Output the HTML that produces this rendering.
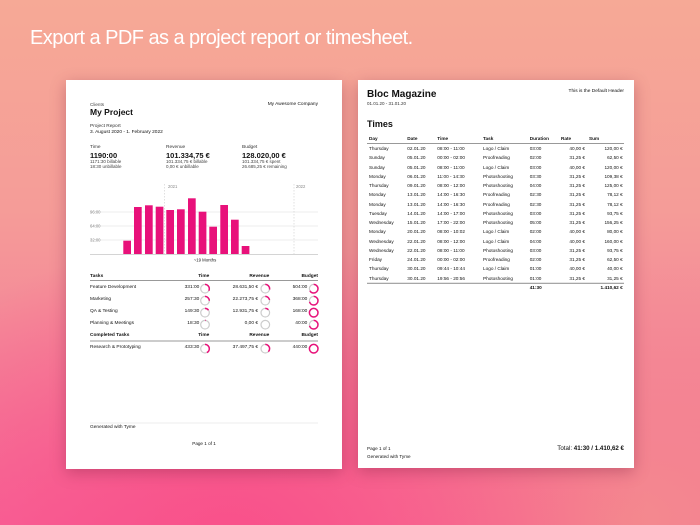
<!DOCTYPE html>
<html><head><meta charset="utf-8">
<style>
*{margin:0;padding:0;box-sizing:border-box}
html,body{width:700px;height:525px;overflow:hidden}
body{position:relative;font-family:"Liberation Sans",sans-serif;color:#111;
background:
radial-gradient(ellipse 420px 300px at 230px 540px,#f9508a 0%,rgba(249,80,138,0.6) 45%,rgba(249,80,138,0) 100%),
radial-gradient(ellipse 500px 260px at 620px 520px,#f48a8e 0%,rgba(244,138,142,0) 100%),
linear-gradient(180deg,#f6a996 0%,#f59c98 40%,#f47f98 75%,#f6689a 100%);}
.h{position:absolute;left:30px;top:27px;color:#fff;font-size:20px;letter-spacing:-0.55px;white-space:nowrap}
.pg{position:absolute;background:#fff;box-shadow:0 4px 14px rgba(120,30,60,0.35)}
.t{position:absolute;line-height:1;white-space:nowrap}
.r{text-align:right}
.b{font-weight:bold}
.lay{position:absolute;left:0;top:0;width:700px;height:525px}
</style></head><body>
<div class="h">Export a PDF as a project report or timesheet.</div>

<div class="pg" style="left:66px;top:80px;width:276px;height:389px"></div>
<div class="pg" style="left:358px;top:80px;width:276px;height:388px"></div>

<!-- LEFT PAGE -->
<div class="t" style="left:90px;top:102.5px;font-size:4.6px;color:#444">Clients</div>
<div class="t b" style="left:90px;top:108px;font-size:8.5px">My Project</div>
<div class="t" style="right:382px;top:102.5px;font-size:4.8px">My Awesome Company</div>
<div class="t" style="left:90px;top:125px;font-size:4.8px;color:#333">Project Report</div>
<div class="t" style="left:90px;top:131px;font-size:4.8px">3. August 2020 - 1. February 2022</div>

<div class="t" style="left:90px;top:146px;font-size:4.8px;color:#333">Time</div>
<div class="t b" style="left:90px;top:151.5px;font-size:7.5px">1190:00</div>
<div class="t" style="left:90px;top:159.5px;font-size:4.5px;color:#444">1171:30 billable</div>
<div class="t" style="left:90px;top:165px;font-size:4.5px;color:#444">18:30 unbillable</div>
<div class="t" style="left:166px;top:146px;font-size:4.8px;color:#333">Revenue</div>
<div class="t b" style="left:166px;top:151.5px;font-size:7.5px">101.334,75 €</div>
<div class="t" style="left:166px;top:159.5px;font-size:4.5px;color:#444">101.334,75 € billable</div>
<div class="t" style="left:166px;top:165px;font-size:4.5px;color:#444">0,00 € unbillable</div>
<div class="t" style="left:242px;top:146px;font-size:4.8px;color:#333">Budget</div>
<div class="t b" style="left:242px;top:151.5px;font-size:7.5px">128.020,00 €</div>
<div class="t" style="left:242px;top:159.5px;font-size:4.5px;color:#444">101.334,75 € spent</div>
<div class="t" style="left:242px;top:165px;font-size:4.5px;color:#444">26.685,25 € remaining</div>

<svg style="position:absolute;left:0;top:0" width="700" height="525">
<g stroke="#e8e8e8" stroke-width="0.8">
<line x1="90" y1="212" x2="318" y2="212"/><line x1="90" y1="226" x2="318" y2="226"/><line x1="90" y1="240" x2="318" y2="240"/>
</g>
<g stroke="#ccc" stroke-width="0.6" stroke-dasharray="1.5,1.5">
<line x1="164.7" y1="184" x2="164.7" y2="254"/><line x1="294" y1="184" x2="294" y2="254"/>
</g>
<g fill="#e8117a">
<rect x="123.3" y="240.7" width="7.7" height="13.3"/>
<rect x="134" y="207" width="7.7" height="47"/>
<rect x="145" y="205.3" width="7.7" height="48.7"/>
<rect x="155.7" y="206.7" width="7.7" height="47.3"/>
<rect x="166.3" y="210" width="7.7" height="44"/>
<rect x="177" y="209.3" width="7.7" height="44.7"/>
<rect x="188" y="198.3" width="7.7" height="55.7"/>
<rect x="198.7" y="211.7" width="7.7" height="42.3"/>
<rect x="209.3" y="226.7" width="7.7" height="27.3"/>
<rect x="220.3" y="205" width="7.7" height="49"/>
<rect x="231" y="219.7" width="7.7" height="34.3"/>
<rect x="241.7" y="246" width="7.7" height="8"/>
</g>
<line x1="90" y1="254.3" x2="318" y2="254.3" stroke="#bbb" stroke-width="0.6"/>
<g font-family="Liberation Sans" font-size="4.2" fill="#888">
<text x="90" y="213.5">96:00</text><text x="90" y="227.5">64:00</text><text x="90" y="241.5">32:00</text>
<text x="168" y="188">2021</text><text x="296" y="188">2022</text>
</g>
<text x="205" y="261.5" font-family="Liberation Sans" font-size="4.3" fill="#222" text-anchor="middle">~19 Months</text>
<g stroke="#999" stroke-width="1.1">
<line x1="90" y1="280.5" x2="318" y2="280.5"/><line x1="90" y1="341" x2="318" y2="341"/>
</g>
<line x1="90" y1="423" x2="318" y2="423" stroke="#ddd" stroke-width="0.6"/>
<g fill="none" stroke-width="1.2">
<g stroke="#ccc">
<circle cx="205" cy="288.7" r="4.3"/><circle cx="205" cy="300.7" r="4.3"/><circle cx="205" cy="312.7" r="4.3"/><circle cx="205" cy="324.7" r="4.3"/><circle cx="205" cy="348.7" r="4.3"/>
<circle cx="265.3" cy="288.7" r="4.3"/><circle cx="265.3" cy="300.7" r="4.3"/><circle cx="265.3" cy="312.7" r="4.3"/><circle cx="265.3" cy="324.7" r="4.3"/><circle cx="265.3" cy="348.7" r="4.3"/>
<circle cx="313.7" cy="288.7" r="4.3"/><circle cx="313.7" cy="300.7" r="4.3"/><circle cx="313.7" cy="312.7" r="4.3"/><circle cx="313.7" cy="324.7" r="4.3"/><circle cx="313.7" cy="348.7" r="4.3"/>
</g>
<g stroke="#e8117a" stroke-width="1.5">
<circle cx="205" cy="288.7" r="4.3" stroke-dasharray="8.8 27" transform="rotate(-90 205 288.7)"/>
<circle cx="205" cy="300.7" r="4.3" stroke-dasharray="6.8 27" transform="rotate(-90 205 300.7)"/>
<circle cx="205" cy="312.7" r="4.3" stroke-dasharray="4 27" transform="rotate(-90 205 312.7)"/>
<circle cx="205" cy="324.7" r="4.3" stroke-dasharray="0.6 27" transform="rotate(-90 205 324.7)"/>
<circle cx="205" cy="348.7" r="4.3" stroke-dasharray="11.5 27" transform="rotate(-90 205 348.7)"/>
<circle cx="265.3" cy="288.7" r="4.3" stroke-dasharray="7.6 27" transform="rotate(-90 265.3 288.7)"/>
<circle cx="265.3" cy="300.7" r="4.3" stroke-dasharray="6 27" transform="rotate(-90 265.3 300.7)"/>
<circle cx="265.3" cy="312.7" r="4.3" stroke-dasharray="3.4 27" transform="rotate(-90 265.3 312.7)"/>
<circle cx="265.3" cy="348.7" r="4.3" stroke-dasharray="10 27" transform="rotate(-90 265.3 348.7)"/>
<circle cx="313.7" cy="288.7" r="4.3" stroke-dasharray="18 27" transform="rotate(-90 313.7 288.7)"/>
<circle cx="313.7" cy="300.7" r="4.3" stroke-dasharray="19 27" transform="rotate(-90 313.7 300.7)"/>
<circle cx="313.7" cy="312.7" r="4.3"/>
<circle cx="313.7" cy="324.7" r="4.3" stroke-dasharray="19 27" transform="rotate(-90 313.7 324.7)"/>
<circle cx="313.7" cy="348.7" r="4.3"/>
</g>
</g>
<g stroke="#999" stroke-width="1.1">
<line x1="367" y1="143.5" x2="624" y2="143.5"/><line x1="367" y1="283.3" x2="624" y2="283.3"/>
</g>
</svg>

<div class="t b" style="left:90px;top:274.5px;font-size:4.8px">Tasks</div>
<div class="t b r" style="right:490.7px;top:274.5px;font-size:4.8px">Time</div>
<div class="t b r" style="right:430.7px;top:274.5px;font-size:4.8px">Revenue</div>
<div class="t b r" style="right:382px;top:274.5px;font-size:4.8px">Budget</div>

<div class="t" style="left:90px;top:286.3px;font-size:4.8px">Feature Development</div>
<div class="t" style="right:500.7px;top:286.3px;font-size:4.8px">331:00</div>
<div class="t" style="right:442px;top:286.3px;font-size:4.8px">28.631,50 €</div>
<div class="t" style="right:392.7px;top:286.3px;font-size:4.8px">504:00</div>

<div class="t" style="left:90px;top:298.3px;font-size:4.8px">Marketing</div>
<div class="t" style="right:500.7px;top:298.3px;font-size:4.8px">257:30</div>
<div class="t" style="right:442px;top:298.3px;font-size:4.8px">22.273,75 €</div>
<div class="t" style="right:392.7px;top:298.3px;font-size:4.8px">368:00</div>

<div class="t" style="left:90px;top:310.3px;font-size:4.8px">QA &amp; Testing</div>
<div class="t" style="right:500.7px;top:310.3px;font-size:4.8px">149:30</div>
<div class="t" style="right:442px;top:310.3px;font-size:4.8px">12.931,75 €</div>
<div class="t" style="right:392.7px;top:310.3px;font-size:4.8px">168:00</div>

<div class="t" style="left:90px;top:322.3px;font-size:4.8px">Planning &amp; Meetings</div>
<div class="t" style="right:500.7px;top:322.3px;font-size:4.8px">18:30</div>
<div class="t" style="right:442px;top:322.3px;font-size:4.8px">0,00 €</div>
<div class="t" style="right:392.7px;top:322.3px;font-size:4.8px">40:00</div>

<div class="t b" style="left:90px;top:334.3px;font-size:4.8px">Completed Tasks</div>
<div class="t b" style="right:490.7px;top:334.3px;font-size:4.8px">Time</div>
<div class="t b" style="right:430.7px;top:334.3px;font-size:4.8px">Revenue</div>
<div class="t b" style="right:382px;top:334.3px;font-size:4.8px">Budget</div>

<div class="t" style="left:90px;top:346.3px;font-size:4.8px">Research &amp; Prototyping</div>
<div class="t" style="right:500.7px;top:346.3px;font-size:4.8px">433:30</div>
<div class="t" style="right:442px;top:346.3px;font-size:4.8px">37.497,75 €</div>
<div class="t" style="right:392.7px;top:346.3px;font-size:4.8px">440:00</div>

<div class="t" style="left:90px;top:426.3px;font-size:4.8px">Generated with Tyme</div>
<div class="t" style="left:204px;top:441.7px;font-size:4.6px;transform:translateX(-50%)">Page 1 of 1</div>

<!-- RIGHT PAGE -->
<div class="t b" style="left:367px;top:89.5px;font-size:10px">Bloc Magazine</div>
<div class="t" style="left:367px;top:102px;font-size:4.5px;color:#333">01.01.20 - 31.01.20</div>
<div class="t" style="right:76px;top:89.8px;font-size:4.8px">This is the Default Header</div>
<div class="t b" style="left:367px;top:120px;font-size:9px">Times</div>

<div class="lay" style="font-size:4.7px">
<div class="t b" style="left:369px;top:137px">Day</div>
<div class="t b" style="left:407.3px;top:137px">Date</div>
<div class="t b" style="left:437.3px;top:137px">Time</div>
<div class="t b" style="left:483px;top:137px">Task</div>
<div class="t b" style="left:529.7px;top:137px">Duration</div>
<div class="t b" style="left:561px;top:137px">Rate</div>
<div class="t b" style="left:589px;top:137px">Sum</div>
</div>

<div class="lay" style="font-size:4.7px">
<div class="t" style="left:369px;top:147px">Thursday</div><div class="t" style="left:407.3px;top:147px">02.01.20</div><div class="t" style="left:437.3px;top:147px">08:00 - 11:00</div><div class="t" style="left:483px;top:147px">Logo / Claim</div><div class="t" style="left:529.7px;top:147px">03:00</div><div class="t" style="right:115px;top:147px">40,00 €</div><div class="t" style="right:77.3px;top:147px">120,00 €</div>
<div class="t" style="left:369px;top:156.26px">Sunday</div><div class="t" style="left:407.3px;top:156.26px">05.01.20</div><div class="t" style="left:437.3px;top:156.26px">00:00 - 02:00</div><div class="t" style="left:483px;top:156.26px">Proofreading</div><div class="t" style="left:529.7px;top:156.26px">02:00</div><div class="t" style="right:115px;top:156.26px">31,25 €</div><div class="t" style="right:77.3px;top:156.26px">62,50 €</div>
<div class="t" style="left:369px;top:165.52px">Sunday</div><div class="t" style="left:407.3px;top:165.52px">05.01.20</div><div class="t" style="left:437.3px;top:165.52px">08:00 - 11:00</div><div class="t" style="left:483px;top:165.52px">Logo / Claim</div><div class="t" style="left:529.7px;top:165.52px">03:00</div><div class="t" style="right:115px;top:165.52px">40,00 €</div><div class="t" style="right:77.3px;top:165.52px">120,00 €</div>
<div class="t" style="left:369px;top:174.78px">Monday</div><div class="t" style="left:407.3px;top:174.78px">06.01.20</div><div class="t" style="left:437.3px;top:174.78px">11:00 - 14:30</div><div class="t" style="left:483px;top:174.78px">Photoshooting</div><div class="t" style="left:529.7px;top:174.78px">03:30</div><div class="t" style="right:115px;top:174.78px">31,25 €</div><div class="t" style="right:77.3px;top:174.78px">109,38 €</div>
<div class="t" style="left:369px;top:184.04px">Thursday</div><div class="t" style="left:407.3px;top:184.04px">09.01.20</div><div class="t" style="left:437.3px;top:184.04px">08:00 - 12:00</div><div class="t" style="left:483px;top:184.04px">Photoshooting</div><div class="t" style="left:529.7px;top:184.04px">04:00</div><div class="t" style="right:115px;top:184.04px">31,25 €</div><div class="t" style="right:77.3px;top:184.04px">125,00 €</div>
<div class="t" style="left:369px;top:193.3px">Monday</div><div class="t" style="left:407.3px;top:193.3px">13.01.20</div><div class="t" style="left:437.3px;top:193.3px">14:00 - 16:30</div><div class="t" style="left:483px;top:193.3px">Proofreading</div><div class="t" style="left:529.7px;top:193.3px">02:30</div><div class="t" style="right:115px;top:193.3px">31,25 €</div><div class="t" style="right:77.3px;top:193.3px">78,12 €</div>
<div class="t" style="left:369px;top:202.56px">Monday</div><div class="t" style="left:407.3px;top:202.56px">13.01.20</div><div class="t" style="left:437.3px;top:202.56px">14:00 - 16:30</div><div class="t" style="left:483px;top:202.56px">Proofreading</div><div class="t" style="left:529.7px;top:202.56px">02:30</div><div class="t" style="right:115px;top:202.56px">31,25 €</div><div class="t" style="right:77.3px;top:202.56px">78,12 €</div>
<div class="t" style="left:369px;top:211.82px">Tuesday</div><div class="t" style="left:407.3px;top:211.82px">14.01.20</div><div class="t" style="left:437.3px;top:211.82px">14:00 - 17:00</div><div class="t" style="left:483px;top:211.82px">Photoshooting</div><div class="t" style="left:529.7px;top:211.82px">03:00</div><div class="t" style="right:115px;top:211.82px">31,25 €</div><div class="t" style="right:77.3px;top:211.82px">93,75 €</div>
<div class="t" style="left:369px;top:221.08px">Wednesday</div><div class="t" style="left:407.3px;top:221.08px">15.01.20</div><div class="t" style="left:437.3px;top:221.08px">17:00 - 22:00</div><div class="t" style="left:483px;top:221.08px">Photoshooting</div><div class="t" style="left:529.7px;top:221.08px">05:00</div><div class="t" style="right:115px;top:221.08px">31,25 €</div><div class="t" style="right:77.3px;top:221.08px">156,25 €</div>
<div class="t" style="left:369px;top:230.34px">Monday</div><div class="t" style="left:407.3px;top:230.34px">20.01.20</div><div class="t" style="left:437.3px;top:230.34px">08:00 - 10:02</div><div class="t" style="left:483px;top:230.34px">Logo / Claim</div><div class="t" style="left:529.7px;top:230.34px">02:00</div><div class="t" style="right:115px;top:230.34px">40,00 €</div><div class="t" style="right:77.3px;top:230.34px">80,00 €</div>
<div class="t" style="left:369px;top:239.6px">Wednesday</div><div class="t" style="left:407.3px;top:239.6px">22.01.20</div><div class="t" style="left:437.3px;top:239.6px">08:00 - 12:00</div><div class="t" style="left:483px;top:239.6px">Logo / Claim</div><div class="t" style="left:529.7px;top:239.6px">04:00</div><div class="t" style="right:115px;top:239.6px">40,00 €</div><div class="t" style="right:77.3px;top:239.6px">160,00 €</div>
<div class="t" style="left:369px;top:248.86px">Wednesday</div><div class="t" style="left:407.3px;top:248.86px">22.01.20</div><div class="t" style="left:437.3px;top:248.86px">08:00 - 11:00</div><div class="t" style="left:483px;top:248.86px">Photoshooting</div><div class="t" style="left:529.7px;top:248.86px">03:00</div><div class="t" style="right:115px;top:248.86px">31,25 €</div><div class="t" style="right:77.3px;top:248.86px">93,75 €</div>
<div class="t" style="left:369px;top:258.12px">Friday</div><div class="t" style="left:407.3px;top:258.12px">24.01.20</div><div class="t" style="left:437.3px;top:258.12px">00:00 - 02:00</div><div class="t" style="left:483px;top:258.12px">Proofreading</div><div class="t" style="left:529.7px;top:258.12px">02:00</div><div class="t" style="right:115px;top:258.12px">31,25 €</div><div class="t" style="right:77.3px;top:258.12px">62,50 €</div>
<div class="t" style="left:369px;top:267.38px">Thursday</div><div class="t" style="left:407.3px;top:267.38px">30.01.20</div><div class="t" style="left:437.3px;top:267.38px">09:44 - 10:44</div><div class="t" style="left:483px;top:267.38px">Logo / Claim</div><div class="t" style="left:529.7px;top:267.38px">01:00</div><div class="t" style="right:115px;top:267.38px">40,00 €</div><div class="t" style="right:77.3px;top:267.38px">40,00 €</div>
<div class="t" style="left:369px;top:276.64px">Thursday</div><div class="t" style="left:407.3px;top:276.64px">30.01.20</div><div class="t" style="left:437.3px;top:276.64px">19:56 - 20:56</div><div class="t" style="left:483px;top:276.64px">Photoshooting</div><div class="t" style="left:529.7px;top:276.64px">01:00</div><div class="t" style="right:115px;top:276.64px">31,25 €</div><div class="t" style="right:77.3px;top:276.64px">31,25 €</div>
<div class="t b" style="left:529.7px;top:286.3px">41:30</div><div class="t b" style="right:77.3px;top:286.3px">1.410,62 €</div>
</div>

<div class="t" style="left:367px;top:446.8px;font-size:4.6px">Page 1 of 1</div>
<div class="t" style="left:367px;top:455px;font-size:4.6px">Generated with Tyme</div>
<div class="t" style="right:76px;top:446px;font-size:6.2px">Total: <b>41:30 / 1.410,62 €</b></div>
</body></html>
